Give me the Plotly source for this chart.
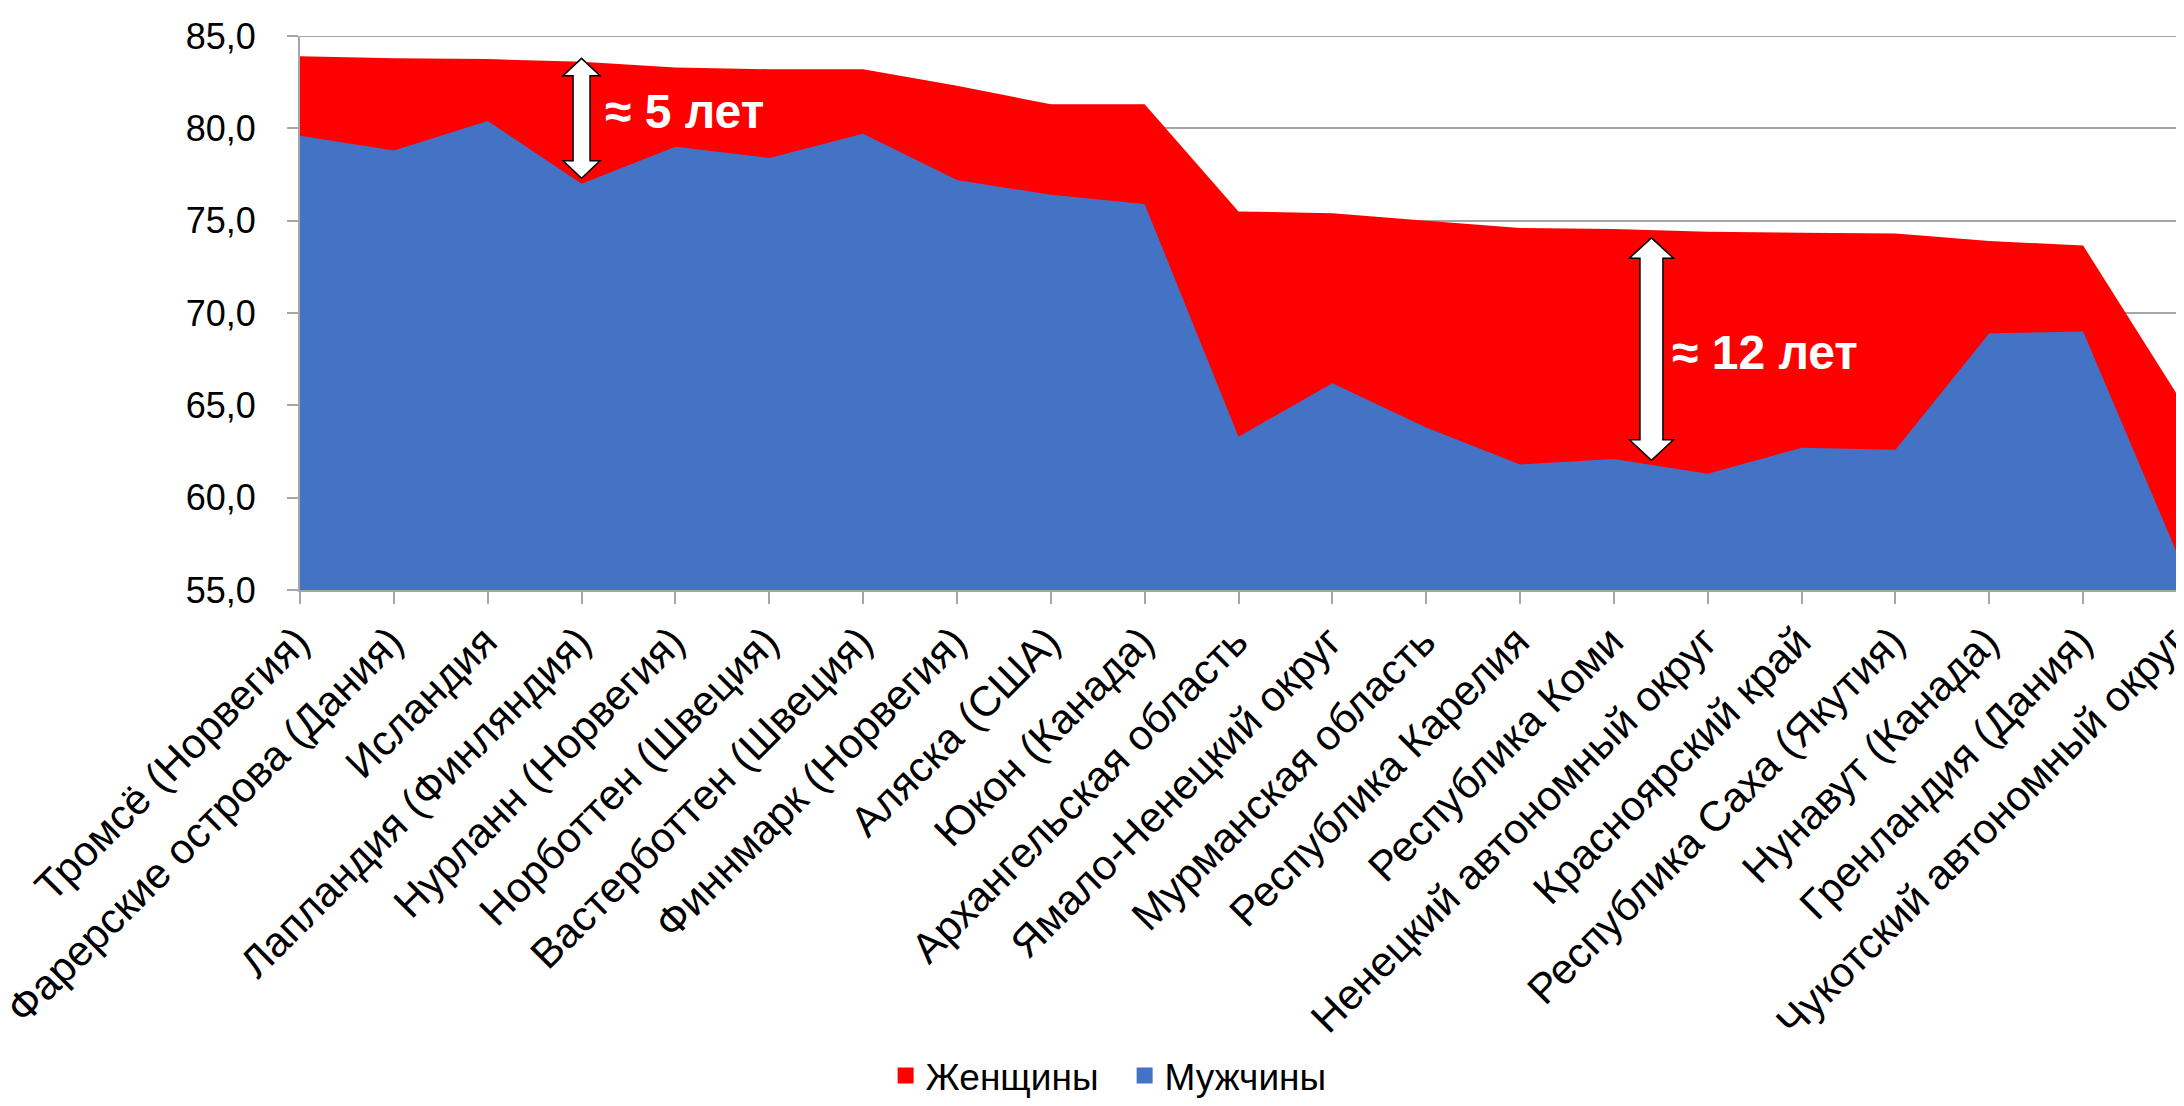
import plotly.graph_objects as go

categories = [
    "Тромсё (Норвегия)", "Фарерские острова (Дания)", "Исландия",
    "Лапландия (Финляндия)", "Нурланн (Норвегия)", "Норботтен (Швеция)",
    "Вастерботтен (Швеция)", "Финнмарк (Норвегия)", "Аляска (США)",
    "Юкон (Канада)", "Архангельская область", "Ямало-Ненецкий округ",
    "Мурманская область", "Республика Карелия", "Республика Коми",
    "Ненецкий автономный округ", "Красноярский край",
    "Республика Саха (Якутия)", "Нунавут (Канада)", "Гренландия (Дания)",
    "Чукотский автономный округ",
]
women = [83.9, 83.8, 83.75, 83.6, 83.3, 83.2, 83.2, 82.3, 81.3, 81.3,
         75.5, 75.4, 75.0, 74.6, 74.55, 74.4, 74.35, 74.3, 73.9, 73.65, 65.6]
men = [79.6, 78.8, 80.4, 77.0, 79.0, 78.4, 79.7, 77.2, 76.4, 75.9,
       63.3, 66.2, 63.8, 61.8, 62.1, 61.3, 62.7, 62.6, 68.9, 69.0, 57.0]

FONT = "Arial, Liberation Sans, sans-serif"
GRID = "#a6a6a6"
RED = "#FF0000"
BLUE = "#4472C4"
Y_MIN, Y_MAX = 55, 85

fig = go.Figure()
fig.add_trace(go.Scatter(x=categories, y=women, name="Женщины", mode="lines",
                         fill="tozeroy", fillcolor=RED, showlegend=False,
                         line=dict(width=0, color=RED)))
fig.add_trace(go.Scatter(x=categories, y=men, name="Мужчины", mode="lines",
                         fill="tozeroy", fillcolor=BLUE, showlegend=False,
                         line=dict(width=0, color=BLUE)))
# legend entries (square swatches)
for name, col in [("Женщины", RED), ("Мужчины", BLUE)]:
    fig.add_trace(go.Scatter(x=[None], y=[None], name=name, mode="markers",
                             marker=dict(symbol="square", size=20, color=col)))

# top gridline at the axis maximum
fig.add_shape(type="line", xref="paper", yref="y", x0=0, x1=1,
              y0=Y_MAX, y1=Y_MAX, line=dict(color=GRID, width=2), layer="below")


def arrow_path(yt, yb, s, w, h):
    pts = [(0, yt), (w, yt - h), (s, yt - h), (s, yb + h), (w, yb + h), (0, yb),
           (-w, yb + h), (-s, yb + h), (-s, yt - h), (-w, yt - h)]
    return "M " + " L ".join(f"{x},{y}" for x, y in pts) + " Z"


arrows = [
    dict(xa=3.0, yt=83.79, yb=77.3, s=8.5, w=18.5, h=0.94),
    dict(xa=14.4, yt=74.07, yb=62.03, s=11.5, w=22, h=1.1),
]
for a in arrows:
    fig.add_shape(type="path", xref="x", yref="y", xsizemode="pixel",
                  xanchor=a["xa"],
                  path=arrow_path(a["yt"], a["yb"], a["s"], a["w"], a["h"]),
                  fillcolor="white", line=dict(color="black", width=1.5),
                  layer="above")

fig.add_annotation(x=3.225, y=80.9, xref="x", yref="y", text="≈ 5 лет",
                   showarrow=False, xanchor="left", yanchor="middle",
                   font=dict(family=FONT, size=48, color="white", weight="bold"))
fig.add_annotation(x=14.6, y=67.85, xref="x", yref="y", text="≈ 12 лет",
                   showarrow=False, xanchor="left", yanchor="middle",
                   font=dict(family=FONT, size=48, color="white", weight="bold"))

fig.update_layout(
    width=2176, height=1106,
    margin=dict(l=292, r=7, t=28, b=516),
    paper_bgcolor="white", plot_bgcolor="white",
    separators=", ",
    font=dict(family=FONT, color="black"),
    showlegend=True,
    legend=dict(orientation="h", x=0.312, xanchor="left", y=-0.877,
                yanchor="middle", font=dict(size=37, family=FONT),
                traceorder="normal", itemwidth=30,
                entrywidth=194, entrywidthmode="pixels"),
    xaxis=dict(type="category", range=[0, 20], showgrid=False, automargin=False,
               showline=True, linecolor=GRID, linewidth=2,
               ticks="outside", ticklen=12, tickcolor=GRID, tickwidth=2,
               tickangle=-45, ticklabelshift=-3, ticklabelstandoff=-4,
               tickfont=dict(size=42, family=FONT)),
    yaxis=dict(range=[Y_MIN, Y_MAX], dtick=5, tick0=Y_MIN, tickformat=".1f",
               showgrid=True, gridcolor=GRID, gridwidth=2, automargin=False,
               showline=True, linecolor=GRID, linewidth=2,
               ticks="outside", ticklen=11, tickcolor=GRID, tickwidth=2,
               ticklabelstandoff=24, ticklabeloverflow="allow",
               tickfont=dict(size=36, family=FONT), zeroline=False),
)

fig.write_html("out.html")
